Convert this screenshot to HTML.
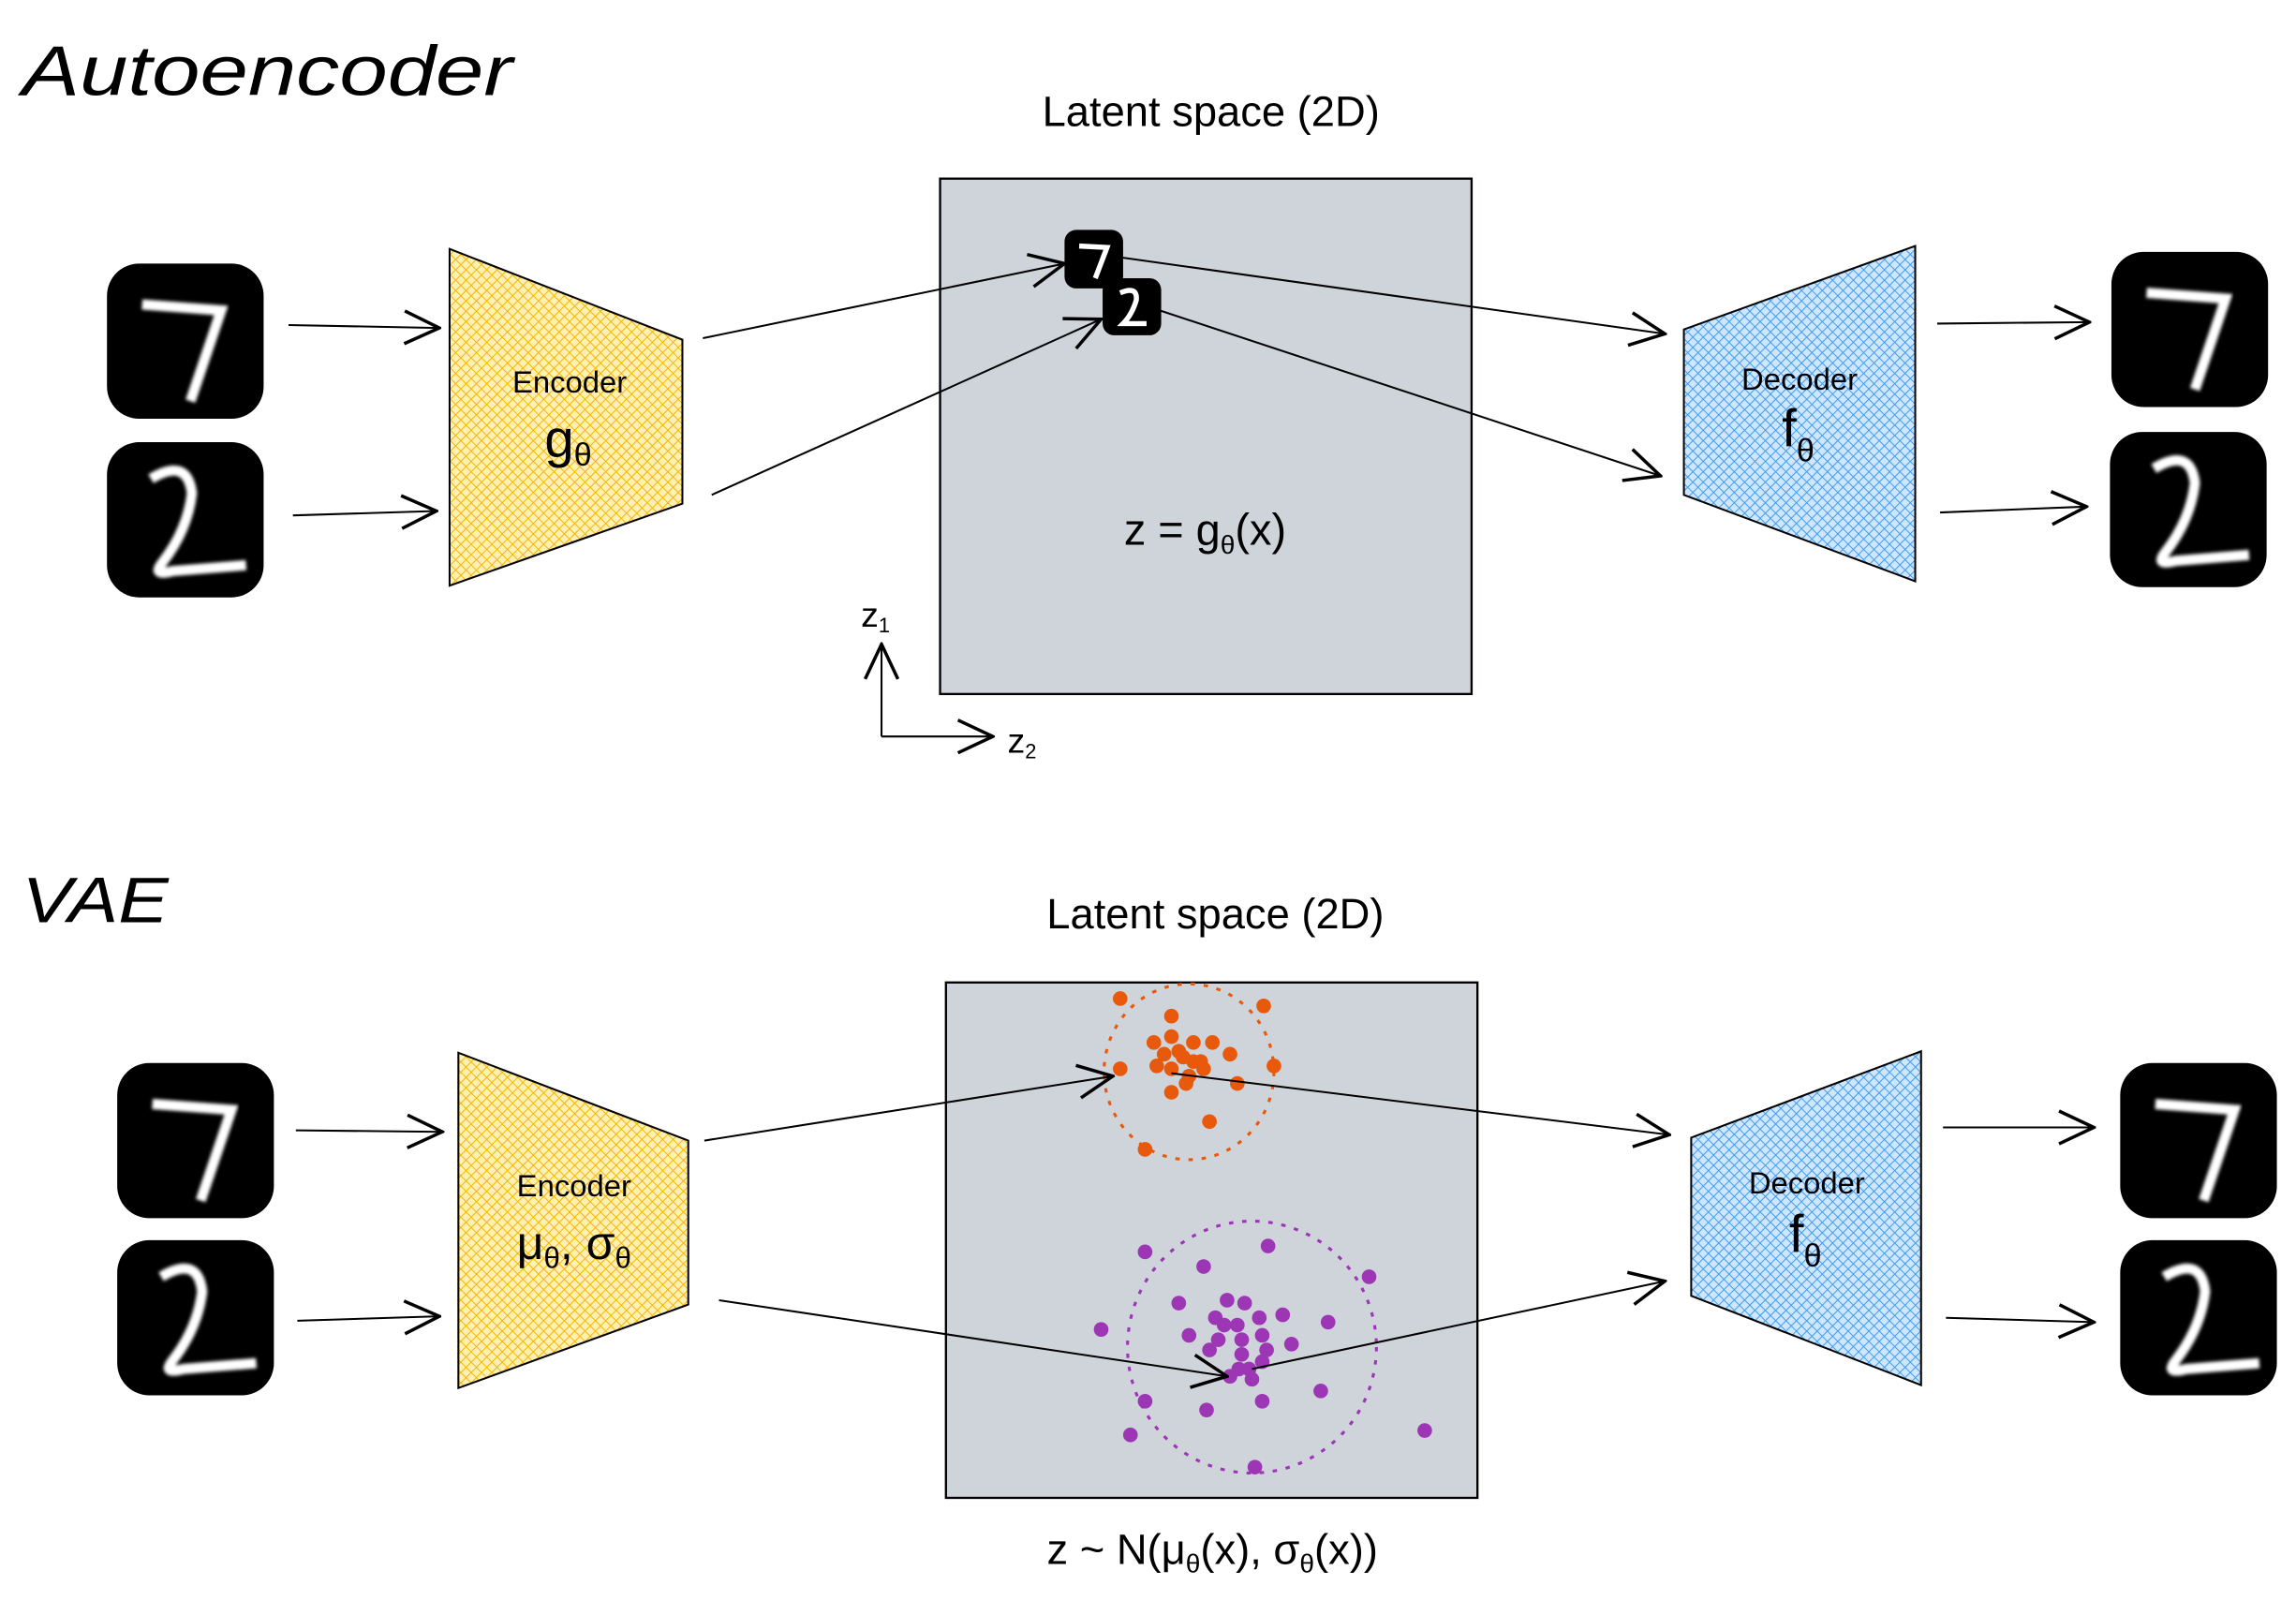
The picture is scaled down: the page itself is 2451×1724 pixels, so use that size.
<!DOCTYPE html>
<html><head><meta charset="utf-8"><style>
html,body{margin:0;padding:0;background:#fff;}
svg{display:block;}
text{font-family:"Liberation Sans",sans-serif;fill:#000;}
</style></head><body>
<svg width="2451" height="1724" viewBox="0 0 1568 1103" xmlns="http://www.w3.org/2000/svg">
<defs>
<pattern id="hy" width="5" height="5" patternUnits="userSpaceOnUse" patternTransform="rotate(45)">
<rect width="5" height="5" fill="#fff0b3"/><path d="M0 0V5M0 0H5" stroke="#f7b500" stroke-width="1.3"/></pattern>
<pattern id="hb" width="5" height="5" patternUnits="userSpaceOnUse" patternTransform="rotate(45)">
<rect width="5" height="5" fill="#cfe6ff"/><path d="M0 0V5M0 0H5" stroke="#3d9cf0" stroke-width="1.3"/></pattern>
<marker id="ah" viewBox="0 0 20 20" refX="19" refY="10" markerWidth="28" markerHeight="28" markerUnits="userSpaceOnUse" orient="auto">
<path d="M2 2L19 10L2 18" fill="none" stroke="#000" stroke-width="1.6"/></marker>
<filter id="bl"><feGaussianBlur stdDeviation="1.2"/></filter>
<g id="d7"><rect x="0" y="0" width="107" height="106" rx="22" fill="#000"/>
<path d="M24 28L78 32L57 94" fill="none" stroke="#fff" stroke-width="7" filter="url(#bl)"/></g>
<g id="d2"><rect x="0" y="0" width="107" height="106" rx="22" fill="#000"/>
<path d="M30 25Q55 10 58 35Q55 60 38 82Q30 92 45 88L95 84" fill="none" stroke="#fff" stroke-width="7" filter="url(#bl)"/></g>
<g id="m7"><rect x="0" y="0" width="40" height="40" rx="8" fill="#000"/>
<path d="M10 11L29 12L21 33" fill="none" stroke="#fff" stroke-width="3.5"/></g>
<g id="m2"><rect x="0" y="0" width="40" height="39" rx="8" fill="#000"/>
<path d="M12 10Q24 5 23 15Q20 25 14 31L30 31" fill="none" stroke="#fff" stroke-width="3.5"/></g>
</defs>

<!-- TOP -->
<text x="15" y="65" font-size="48" font-style="italic" textLength="335" lengthAdjust="spacingAndGlyphs">Autoencoder</text>
<text x="827" y="86" font-size="29" text-anchor="middle">Latent space (2D)</text>
<rect x="642" y="122" width="363" height="352" fill="#ced4da" stroke="#000" stroke-width="1.5"/>
<use href="#d7" x="73" y="180"/><use href="#d2" x="73" y="302"/>
<use href="#d7" x="1442" y="172"/><use href="#d2" x="1441" y="295"/>
<polygon points="307,170 466,232 466,344 307,400" fill="url(#hy)" stroke="#000" stroke-width="1.3"/>
<text x="389" y="268" font-size="21" text-anchor="middle">Encoder</text>
<text x="388" y="312" font-size="36" text-anchor="middle">g<tspan font-size="22" dy="6">θ</tspan></text>
<polygon points="1150,225 1308,168 1308,397 1150,338" fill="url(#hb)" stroke="#000" stroke-width="1.3"/>
<text x="1229" y="266" font-size="21" text-anchor="middle">Decoder</text>
<text x="1228" y="305" font-size="36" text-anchor="middle">f<tspan font-size="22" dy="10">θ</tspan></text>
<g fill="none" stroke="#000" stroke-width="1.3" marker-end="url(#ah)">
<path d="M197 222L300 224"/><path d="M200 352L298 349"/>
<path d="M480 231L727 180"/><path d="M486 338L752 218"/>
<path d="M767 176L1137 228"/><path d="M792 212L1134 325"/>
<path d="M1323 221L1427 220"/><path d="M1325 350L1425 346"/>
<path d="M602 503L602 440"/><path d="M602 503L678 503"/>
</g>
<use href="#m7" x="727" y="157"/><use href="#m2" x="753" y="190"/>
<text x="823" y="372" font-size="30" text-anchor="middle">z = g<tspan font-size="18" dy="6">θ</tspan><tspan dy="-6">(x)</tspan></text>
<text x="588" y="428" font-size="24">z<tspan font-size="14" dy="4">1</tspan></text>
<text x="688" y="514" font-size="24">z<tspan font-size="14" dy="4">2</tspan></text>

<!-- BOTTOM -->
<text x="15" y="630" font-size="44" font-style="italic" textLength="100" lengthAdjust="spacingAndGlyphs">VAE</text>
<text x="830" y="634" font-size="29" text-anchor="middle">Latent space (2D)</text>
<rect x="646" y="671" width="363" height="352" fill="#ced4da" stroke="#000" stroke-width="1.5"/>
<use href="#d7" x="80" y="726"/><use href="#d2" x="80" y="847"/>
<use href="#d7" x="1448" y="726"/><use href="#d2" x="1448" y="847"/>
<polygon points="313,719 470,779 470,891 313,948" fill="url(#hy)" stroke="#000" stroke-width="1.3"/>
<text x="392" y="817" font-size="21" text-anchor="middle">Encoder</text>
<text x="392" y="860" font-size="32" text-anchor="middle">μ<tspan font-size="20" dy="6">θ</tspan><tspan dy="-6">, σ</tspan><tspan font-size="20" dy="6">θ</tspan></text>
<polygon points="1155,777 1312,718 1312,946 1155,885" fill="url(#hb)" stroke="#000" stroke-width="1.3"/>
<text x="1234" y="815" font-size="21" text-anchor="middle">Decoder</text>
<text x="1233" y="855" font-size="36" text-anchor="middle">f<tspan font-size="22" dy="10">θ</tspan></text>

<ellipse cx="812" cy="732" rx="58" ry="60" fill="none" stroke="#e8590c" stroke-width="2" stroke-dasharray="3 6"/>
<ellipse cx="855" cy="920" rx="85" ry="86" fill="none" stroke="#9c36b5" stroke-width="2" stroke-dasharray="3 6"/>
<g fill="#e8590c">
<circle cx="765" cy="682" r="5"/><circle cx="800" cy="694" r="5"/><circle cx="863" cy="687" r="5"/><circle cx="788" cy="712" r="5"/><circle cx="800" cy="708" r="5"/><circle cx="815" cy="712" r="5"/><circle cx="828" cy="712" r="5"/><circle cx="795" cy="720" r="5"/><circle cx="805" cy="718" r="5"/><circle cx="820" cy="725" r="5"/><circle cx="840" cy="720" r="5"/><circle cx="765" cy="730" r="5"/><circle cx="790" cy="728" r="5"/><circle cx="800" cy="730" r="5"/><circle cx="812" cy="735" r="5"/><circle cx="822" cy="730" r="5"/><circle cx="870" cy="728" r="5"/><circle cx="845" cy="740" r="5"/><circle cx="800" cy="746" r="5"/><circle cx="782" cy="785" r="5"/><circle cx="826" cy="766" r="5"/><circle cx="810" cy="740" r="5"/><circle cx="815" cy="725" r="5"/><circle cx="808" cy="722" r="5"/>
</g>
<g fill="#9c36b5">
<circle cx="782" cy="855" r="5"/><circle cx="822" cy="865" r="5"/><circle cx="866" cy="851" r="5"/><circle cx="935" cy="872" r="5"/><circle cx="805" cy="890" r="5"/><circle cx="838" cy="888" r="5"/><circle cx="850" cy="890" r="5"/><circle cx="876" cy="898" r="5"/><circle cx="752" cy="908" r="5"/><circle cx="907" cy="903" r="5"/><circle cx="830" cy="900" r="5"/><circle cx="845" cy="905" r="5"/><circle cx="860" cy="900" r="5"/><circle cx="812" cy="912" r="5"/><circle cx="832" cy="915" r="5"/><circle cx="848" cy="915" r="5"/><circle cx="862" cy="912" r="5"/><circle cx="826" cy="922" r="5"/><circle cx="848" cy="925" r="5"/><circle cx="865" cy="922" r="5"/><circle cx="882" cy="918" r="5"/><circle cx="853" cy="935" r="5"/><circle cx="840" cy="940" r="5"/><circle cx="855" cy="942" r="5"/><circle cx="862" cy="930" r="5"/><circle cx="902" cy="950" r="5"/><circle cx="862" cy="957" r="5"/><circle cx="782" cy="957" r="5"/><circle cx="824" cy="963" r="5"/><circle cx="772" cy="980" r="5"/><circle cx="973" cy="977" r="5"/><circle cx="857" cy="1002" r="5"/><circle cx="836" cy="905" r="5"/><circle cx="846" cy="935" r="5"/>
</g>
<g fill="none" stroke="#000" stroke-width="1.3" marker-end="url(#ah)">
<path d="M202 772L302 773"/><path d="M203 902L300 899"/>
<path d="M481 779L760 735"/><path d="M491 888L838 940"/>
<path d="M800 733L1140 775"/><path d="M855 935L1137 875"/>
<path d="M1327 770L1430 770"/><path d="M1329 900L1430 903"/>
</g>
<text x="828" y="1068" font-size="29" text-anchor="middle">z ~ N(μ<tspan font-size="18" dy="6">θ</tspan><tspan dy="-6">(x), σ</tspan><tspan font-size="18" dy="6">θ</tspan><tspan dy="-6">(x))</tspan></text>
</svg>
</body></html>
